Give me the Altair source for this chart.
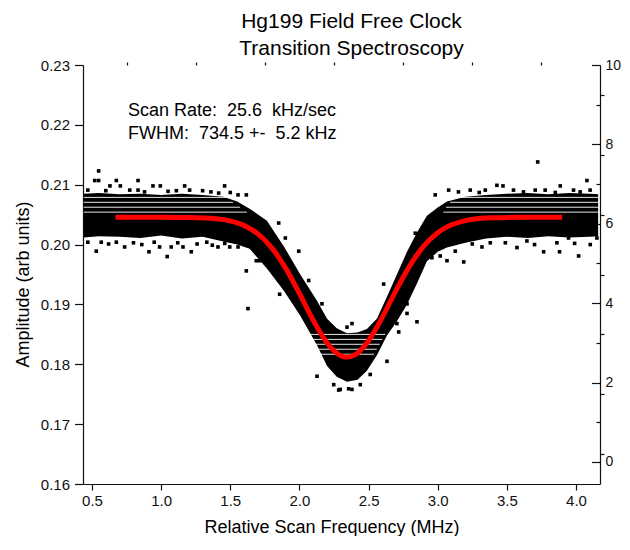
import altair as alt
import pandas as pd

FONT = "Liberation Sans"

# ---- title and annotation text ----
title_lines = ["Hg199 Field Free Clock", "Transition Spectroscopy"]
note_text = ["Scan Rate:\u00a0\u00a025.6\u00a0\u00a0kHz/sec", "FWHM:\u00a0\u00a0734.5 +-\u00a0\u00a05.2 kHz"]
note_x = [0.76, 0.76]
note_y = [0.22156, 0.21759]

# ---- fitted curve (red) ----
fit_x = [0.67, 0.8, 1.0, 1.2, 1.4, 1.5, 1.6, 1.7, 1.8, 1.9, 2.0, 2.1, 2.2, 2.3, 2.344,
         2.4, 2.5, 2.6, 2.7, 2.8, 2.9, 3.0, 3.1, 3.2, 3.3, 3.4, 3.6, 3.9]
fit_y = [0.20455, 0.20455, 0.20455, 0.20452, 0.20431, 0.20395, 0.20319, 0.20178, 0.19945,
         0.19607, 0.19184, 0.18736, 0.18356, 0.18143, 0.18120, 0.18157, 0.18394, 0.18788,
         0.19240, 0.19653, 0.19978, 0.20199, 0.20330, 0.20401, 0.20434, 0.20448, 0.20455,
         0.20455]

# ---- dense core of the scan data (lower / upper edge) ----
band_x = [0.44, 0.55, 0.70, 0.85, 1.00, 1.15, 1.30, 1.45, 1.55, 1.64, 1.765, 1.89, 2.004,
          2.127, 2.20, 2.27, 2.344, 2.42, 2.488, 2.56, 2.633, 2.705, 2.778, 2.85, 2.922,
          3.00, 3.067, 3.20, 3.35, 3.50, 3.65, 3.80, 3.95, 4.10, 4.16]
band_lo = [0.2012, 0.2014, 0.2013, 0.2011, 0.2015, 0.2010, 0.2013, 0.2005, 0.2000, 0.1993,
           0.1960, 0.1922, 0.1882, 0.1832, 0.1797, 0.1779, 0.1771, 0.1774, 0.1789, 0.1815,
           0.1848, 0.1872, 0.1900, 0.1935, 0.1972, 0.1988, 0.1995, 0.2003, 0.2010, 0.2013,
           0.2011, 0.2014, 0.2012, 0.2013, 0.2014]
band_hi = [0.2085, 0.2086, 0.2084, 0.2085, 0.2083, 0.2085, 0.2083, 0.2080, 0.2072, 0.2060,
           0.2040, 0.1996, 0.1951, 0.1906, 0.1876, 0.1860, 0.1852, 0.1853, 0.1859, 0.1876,
           0.1913, 0.1950, 0.1988, 0.2020, 0.2048, 0.2062, 0.2072, 0.2080, 0.2083, 0.2085,
           0.2086, 0.2084, 0.2086, 0.2085, 0.2084]

# ---- empty rows between quantised amplitude levels ----
gap_y = [0.20542, 0.20624, 0.20706, 0.20788,
         0.20542, 0.20624, 0.20706, 0.20788,
         0.18499, 0.18416, 0.18334, 0.18251, 0.18168]
gap_x1 = [0.44, 0.44, 0.44, 0.44,
          3.04, 3.06, 3.09, 3.12,
          2.02, 2.05, 2.08, 2.10, 2.12]
gap_x2 = [1.62, 1.57, 1.52, 1.48,
          4.165, 4.165, 4.165, 4.165,
          2.62, 2.60, 2.58, 2.56, 2.54]

# ---- scattered individual samples outside the core ----
pts_x = [0.548, 0.520, 0.548, 0.676, 0.833, 0.705, 0.941, 0.994, 1.459, 0.773, 0.833, 1.110,
         1.206, 1.416, 1.556, 1.616, 0.47, 0.60, 0.88, 1.05, 1.30, 1.36, 1.50, 0.63, 1.17,
         0.531, 0.912, 1.044, 1.218, 0.567, 0.676, 0.736, 0.989, 1.073, 1.158, 1.411, 1.496,
         1.556, 0.47, 0.62, 0.80, 0.86, 0.95, 1.12, 1.26, 1.33, 1.37, 1.46,
         1.616, 1.628, 1.688, 1.712, 1.857, 1.85, 1.898, 1.995, 2.067, 2.163, 2.175,
         2.127, 2.248, 2.295, 2.38, 2.44, 2.512, 2.633, 2.38, 2.344, 2.284, 2.356,
         2.718, 2.609, 2.778, 2.85, 2.705, 2.778, 2.585, 2.838, 2.934, 2.958, 3.018, 3.067,
         3.127, 3.188, 3.03, 2.982,
         3.079, 3.235, 3.723, 4.079, 3.886, 3.428, 3.472, 3.344, 3.548, 3.705, 3.777, 3.982,
         4.102, 3.15, 3.30, 3.62, 3.85, 4.03,
         3.766, 3.881, 4.019, 3.38, 3.489, 3.645, 4.103, 4.151, 3.573, 3.862, 3.946, 3.25,
         3.32, 3.70, 3.99, 3.12]
pts_y = [0.2123, 0.2107, 0.2107, 0.2107, 0.2107, 0.2098, 0.2098, 0.2098, 0.2098, 0.2091, 0.2091,
         0.2090, 0.2091, 0.2086, 0.2083, 0.2083, 0.2091, 0.2090, 0.2088, 0.2089, 0.2090, 0.2088,
         0.2087, 0.2098, 0.2098,
         0.1989, 0.1988, 0.1980, 0.1988, 0.2004, 0.2004, 0.1996, 0.1996, 0.1996, 0.1996, 0.1996,
         0.1996, 0.1996, 0.2004, 0.2001, 0.2003, 0.2000, 0.2004, 0.2003, 0.2001, 0.2004, 0.1999,
         0.2002,
         0.1956, 0.1893, 0.1973, 0.1973, 0.1917, 0.2036, 0.2011, 0.1989, 0.1940, 0.1901, 0.1876,
         0.1780, 0.1766, 0.1758, 0.1758, 0.1766, 0.1783, 0.1805, 0.1868, 0.1862, 0.1757, 0.1759,
         0.1854, 0.1934, 0.1885, 0.1871, 0.1868, 0.1901, 0.1846, 0.2019, 0.2019, 0.1978, 0.1981,
         0.1973, 0.1989, 0.1971, 0.2058, 0.2083,
         0.2091, 0.2091, 0.2138, 0.2107, 0.2098, 0.2099, 0.2098, 0.2091, 0.2091, 0.2091, 0.2091,
         0.2091, 0.2091, 0.2088, 0.2087, 0.2088, 0.2087, 0.2088,
         0.1988, 0.1988, 0.1981, 0.2003, 0.2003, 0.2006, 0.2000, 0.2011, 0.1995, 0.2003, 0.2011,
         0.2001, 0.1996, 0.2000, 0.2002, 0.2004]

# ---- axis tick values ----
x_major = [0.5, 1.0, 1.5, 2.0, 2.5, 3.0, 3.5, 4.0]
x_minor = [0.75, 1.25, 1.75, 2.25, 2.75, 3.25, 3.75]
y_major = [0.16, 0.17, 0.18, 0.19, 0.20, 0.21, 0.22, 0.23]
y_minor = [0.165, 0.175, 0.185, 0.195, 0.205, 0.215, 0.225]
r_major = [0, 2, 4, 6, 8, 10]
r_minor = [1, 3, 5, 7, 9]

X_DOMAIN = [0.435, 4.1735]
Y_DOMAIN = [0.16, 0.23]
R_DOMAIN = [-0.556, 10]

W, H = 517, 419

df_fit = pd.DataFrame({"x": fit_x, "y": fit_y})
df_band = pd.DataFrame({"x": band_x, "lo": band_lo, "hi": band_hi})
df_gap = pd.DataFrame({"x1": gap_x1, "x2": gap_x2, "y": gap_y})
df_pts = pd.DataFrame({"x": pts_x, "y": pts_y})
df_note = pd.DataFrame({"x": note_x, "y": note_y, "t": note_text})
df_one = pd.DataFrame({"x": [2.0], "y": [0.2], "r": [5.0]})

xs = alt.Scale(domain=X_DOMAIN, nice=False, zero=False)
ys = alt.Scale(domain=Y_DOMAIN, nice=False, zero=False)
rs = alt.Scale(domain=R_DOMAIN, nice=False, zero=False)

band = alt.Chart(df_band).mark_area(color="black", opacity=1).encode(
    x=alt.X("x:Q", scale=xs, axis=alt.Axis(
        values=x_major, format=".1f", tickSize=6, labelPadding=3,
        title="Relative Scan Frequency (MHz)", titleX=248.5, titleY=48,
        titleBaseline="alphabetic", titleAlign="center")),
    y=alt.Y("lo:Q", scale=ys, axis=alt.Axis(
        values=y_major, format=".2f", tickSize=8.5, labelPadding=5,
        title="Amplitude (arb units)", titleX=-55, titleY=219, titleAngle=270,
        titleBaseline="alphabetic", titleAlign="center")),
    y2="hi:Q",
)

gaps = alt.Chart(df_gap).mark_rule(color="white", strokeWidth=0.9).encode(
    x=alt.X("x1:Q", scale=xs, axis=None),
    x2="x2:Q",
    y=alt.Y("y:Q", scale=ys, axis=None),
)

pts = alt.Chart(df_pts).mark_square(color="black", size=13, opacity=1).encode(
    x=alt.X("x:Q", scale=xs, axis=None),
    y=alt.Y("y:Q", scale=ys, axis=None),
)

fit = alt.Chart(df_fit).mark_line(color="#ff0000", strokeWidth=5, interpolate="monotone").encode(
    x=alt.X("x:Q", scale=xs, axis=None),
    y=alt.Y("y:Q", scale=ys, axis=None),
)

notes = alt.Chart(df_note).mark_text(
    align="left", baseline="alphabetic", fontSize=18, font=FONT, color="black"
).encode(
    x=alt.X("x:Q", scale=xs, axis=None),
    y=alt.Y("y:Q", scale=ys, axis=None),
    text="t:N",
)

minor = alt.Chart(df_one).mark_point(opacity=0).encode(
    x=alt.X("x:Q", scale=xs, axis=alt.Axis(values=x_minor, tickSize=3, labels=False,
                                           domain=False, title=None)),
    y=alt.Y("y:Q", scale=ys, axis=alt.Axis(values=y_minor, tickSize=4, labels=False,
                                           domain=False, title=None)),
)

right_labels = alt.Chart(df_one).mark_point(opacity=0).encode(
    x=alt.X("x:Q", scale=xs, axis=None),
    y=alt.Y("r:Q", scale=rs, axis=alt.Axis(orient="right", values=r_major, ticks=False,
                                           labelPadding=5, labelFontSize=14, title=None)),
)

right_ticks = alt.Chart(df_one).mark_point(opacity=0).encode(
    x=alt.X("x:Q", scale=xs, axis=None),
    y=alt.Y("r:Q", scale=rs, axis=alt.Axis(orient="left", offset=-W, values=r_major,
                                           tickSize=8.5, labels=False, domain=False,
                                           title=None)),
)

right_minor = alt.Chart(df_one).mark_point(opacity=0).encode(
    x=alt.X("x:Q", scale=xs, axis=None),
    y=alt.Y("r:Q", scale=rs, axis=alt.Axis(orient="left", offset=-W, values=r_minor,
                                           tickSize=4, labels=False, domain=False,
                                           title=None)),
)

chart = alt.layer(
    band, gaps, pts, fit, notes, minor, right_labels, right_ticks, right_minor
).resolve_scale(
    x="independent", y="independent"
).properties(
    width=W,
    height=H,
    padding={"left": 75, "top": 57, "right": 22, "bottom": 52},
    autosize=alt.AutoSizeParams(type="none"),
    title=alt.TitleParams(
        text=title_lines, fontSize=21, fontWeight="normal", font=FONT, color="black",
        anchor="middle", frame="group", offset=0, dy=1, lineHeight=27, dx=10,
    ),
).configure_view(
    stroke="transparent"
).configure_axis(
    labelFont=FONT, labelFontSize=15, labelColor="#111111",
    tickColor="#111111", tickWidth=1.2, domainColor="#111111", domainWidth=1.2,
    grid=False, titleFont=FONT, titleFontSize=18, titleFontWeight="normal",
    titleColor="black", zindex=1,
)

chart.save("out.html", embed_options={"renderer": "svg", "actions": False})
